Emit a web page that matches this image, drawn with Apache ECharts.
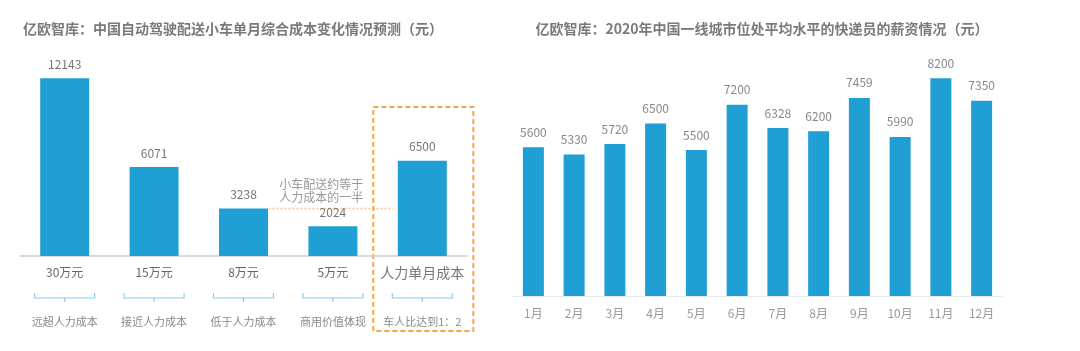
<!DOCTYPE html>
<html>
<head>
<meta charset="utf-8">
<script src="https://cdn.jsdelivr.net/npm/echarts@6/dist/echarts.min.js"></script>
<style>
  html, body { margin: 0; padding: 0; background: #fff; }
  #main { width: 1080px; height: 351px; }
</style>
</head>
<body>
<div id="main"></div>
<script>
const leftCats = ['30万元', '15万元', '8万元', '5万元', '人力单月成本'];
const leftValues = [12143, 6071, 3238, 2024, 6500];
const leftNotes = ['远超人力成本', '接近人力成本', '低于人力成本', '商用价值体现', '车人比达到1：2'];
const months = ['1月', '2月', '3月', '4月', '5月', '6月', '7月', '8月', '9月', '10月', '11月', '12月'];
const salaries = [5600, 5330, 5720, 6500, 5500, 7200, 6328, 6200, 7459, 5990, 8200, 7350];

const FONT = '"Noto Sans CJK SC", "Noto Sans", sans-serif';
const BAR = '#209fd4';

const chart = echarts.init(document.getElementById('main'), null, { renderer: 'canvas' });

chart.setOption({
  animation: false,
  textStyle: { fontFamily: FONT },
  title: [
    {
      text: '亿欧智库：中国自动驾驶配送小车单月综合成本变化情况预测（元）',
      left: 18, top: 17,
      textStyle: { fontSize: 14, fontWeight: 'bold', color: '#7a7a7a', fontFamily: FONT }
    },
    {
      text: '亿欧智库：2020年中国一线城市位处平均水平的快递员的薪资情况（元）',
      left: 757, top: 17, textAlign: 'center',
      textStyle: { fontSize: 14, fontWeight: 'bold', color: '#7a7a7a', fontFamily: FONT }
    }
  ],
  grid: [
    { left: 20, right: 613, top: 51, bottom: 95 },
    { left: 513, right: 78, top: 57, bottom: 55 }
  ],
  xAxis: [
    {
      type: 'category', gridIndex: 0, data: leftCats,
      axisLine: { lineStyle: { color: '#cfcfcf', width: 1.5 } },
      axisTick: { show: false },
      axisLabel: {
        interval: 0, margin: 10,
        formatter: (v, i) => i === 4 ? '{big|' + v + '}' : '{n|' + v + '}',
        rich: {
          n: { fontSize: 12, color: '#666', fontFamily: FONT },
          big: { fontSize: 14, color: '#777', fontFamily: FONT }
        }
      }
    },
    {
      type: 'category', gridIndex: 0, data: leftNotes, position: 'bottom', offset: 50,
      axisLine: { show: false }, axisTick: { show: false },
      axisLabel: { interval: 0, margin: 10, fontSize: 11, color: '#8a8a8a', fontFamily: FONT }
    },
    {
      type: 'category', gridIndex: 1, data: months,
      axisLine: { lineStyle: { color: '#e3edf5', width: 1 } },
      axisTick: { show: false },
      axisLabel: { interval: 0, margin: 11, fontSize: 12, color: '#999', fontFamily: FONT }
    }
  ],
  yAxis: [
    { type: 'value', gridIndex: 0, min: 0, max: 14000, show: false },
    { type: 'value', gridIndex: 1, min: 0, max: 9000, show: false }
  ],
  series: [
    {
      type: 'bar', xAxisIndex: 0, yAxisIndex: 0, data: leftValues,
      barWidth: 49,
      itemStyle: { color: BAR },
      label: { show: true, position: 'top', distance: 8, fontSize: 12, color: '#777', fontFamily: FONT }
    },
    {
      type: 'bar', xAxisIndex: 2, yAxisIndex: 1, data: salaries,
      barWidth: 21,
      itemStyle: { color: BAR },
      label: { show: true, position: 'top', distance: 9, fontSize: 12, color: '#888', fontFamily: FONT }
    }
  ]
});

// decorations placed from the axes' own scale
const px = (i, v) => chart.convertToPixel({ xAxisIndex: 0, yAxisIndex: 0 }, [i, v]);
const graphics = [];
const bracketColor = '#8ccbef';
leftCats.forEach((c, i) => {
  const cx = px(i, 0)[0];
  graphics.push({
    type: 'polyline', silent: true,
    shape: { points: [[cx - 30, 293], [cx - 30, 298], [cx + 30, 298], [cx + 30, 293]] },
    style: { stroke: bracketColor, lineWidth: 1.2, fill: null }
  });
  graphics.push({
    type: 'line', silent: true,
    shape: { x1: cx, y1: 298, x2: cx, y2: 302 },
    style: { stroke: bracketColor, lineWidth: 1.2 }
  });
});

const p3 = px(2, leftValues[2]);
const p5 = px(4, 0);
graphics.push({
  type: 'line', silent: true,
  shape: { x1: p3[0] + 25, y1: p3[1], x2: p5[0] - 29, y2: p3[1] },
  style: { stroke: '#fbc893', lineWidth: 1.5, lineDash: [2, 2] }
});
graphics.push({
  type: 'rect', silent: true,
  shape: { x: p5[0] - 49, y: 107, width: 100, height: 224 },
  style: { stroke: '#f7a64c', lineWidth: 2, lineDash: [5, 3], fill: null }
});
graphics.push({
  type: 'text', silent: true,
  x: (p3[0] + px(3, 0)[0]) / 2 + 33, y: 178,
  style: {
    text: '小车配送约等于\n人力成本的一半',
    fill: '#999', fontSize: 12, lineHeight: 13, align: 'center',
    fontFamily: FONT
  }
});

chart.setOption({ graphic: graphics });
</script>
</body>
</html>
